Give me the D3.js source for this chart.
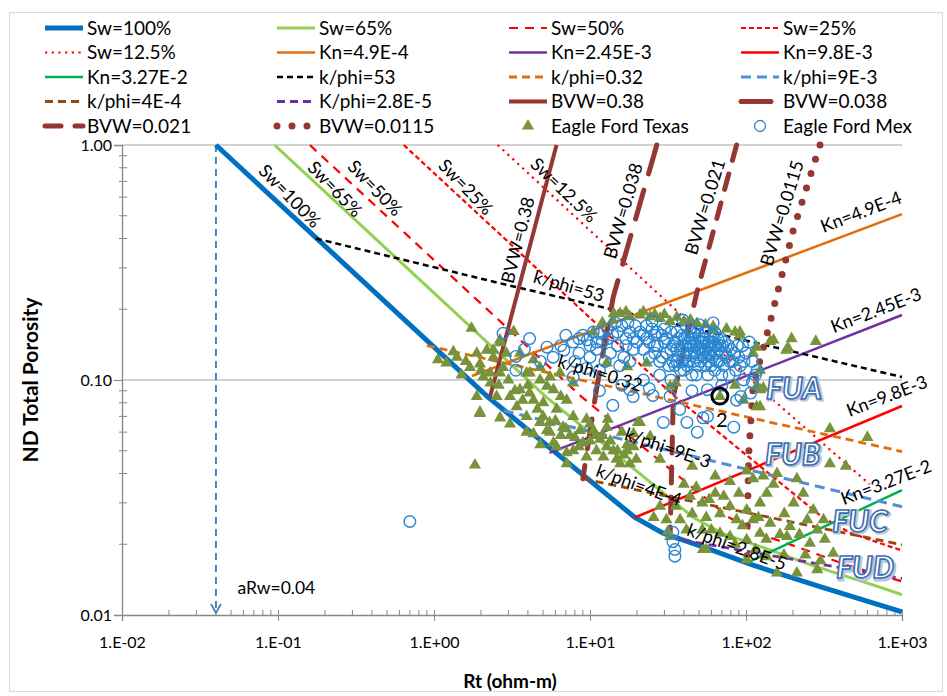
<!DOCTYPE html>
<html>
<head>
<meta charset="utf-8">
<script src="https://cdn.jsdelivr.net/npm/d3@7"></script>
<style>
  body { margin: 0; background: #fff; }
  text { font-family: Lato, "Open Sans", sans-serif; }
</style>
</head>
<body>
<script>
// ---- axis ticks ----
const xMajor = [0.01, 0.1, 1, 10, 100, 1000];
const xLabels = ['1.E-02', '1.E-01', '1.E+00', '1.E+01', '1.E+02', '1.E+03'];
const yMajor = [0.01, 0.1, 1];
const yLabels = ['0.01', '0.10', '1.00'];

// ---- model lines, [Rt, phi] ----
const sw100 = [[0.04, 1], [2.2, 0.085], [19.4, 0.026], [29.4, 0.0223], [53, 0.0195], [111, 0.0163], [298, 0.0132], [1000, 0.0103]];
const sw65 = [[0.095, 1], [5.2, 0.085], [46, 0.026], [70, 0.0223], [125, 0.0195], [263, 0.0163], [705, 0.0132], [1000, 0.0122]];
const sw50 = [[0.16, 1], [8.8, 0.085], [78, 0.026], [118, 0.0223], [212, 0.0195], [444, 0.0163], [1000, 0.0139]];
const sw25 = [[0.64, 1], [35, 0.085], [310, 0.026], [470, 0.0223], [848, 0.0195], [1000, 0.0188]];
const sw125 = [[2.56, 1], [141, 0.085], [620, 0.036]];
const kn49e4 = [[1.75, 0.104], [1000, 0.508]];
const kn245e3 = [[5.5, 0.049], [1000, 0.189]];
const kn98e3 = [[19.4, 0.026], [1000, 0.0775]];
const kn327e2 = [[100, 0.0166], [1000, 0.034]];
const kphi53 = [[0.175, 0.40], [2.65, 0.258], [1000, 0.103]];
const kphi032 = [[0.9, 0.14], [1000, 0.0496]];
const kphi9e3 = [[2.8, 0.074], [1000, 0.0289]];
const kphi4e4 = [[9, 0.038], [1000, 0.0199]];
const kphi28e5 = [[32.6, 0.0213], [1000, 0.0143]];
const bvw038 = [[6.1, 1], [2.29, 0.085]];
const bvw0038 = [[26.8, 1], [14.1, 0.226], [11, 0.091], [9, 0.038]];
const bvw0021 = [[87, 1], [48.3, 0.234], [34.2, 0.085], [32.6, 0.0213]];
const bvw00115 = [[298, 1], [201, 0.435], [142, 0.174], [111, 0.094], [104, 0.048], [101, 0.0168]];

// ---- samples ----
const texasPts = [
  [1.74,0.166],[3.24,0.161],[2.65,0.144],[1.33,0.132],[1.06,0.122],[1.88,0.130],[2.18,0.134],[2.40,0.125],[1.97,0.117],[1.70,0.113],
  [1.50,0.105],[2.07,0.103],[2.77,0.113],[2.91,0.130],[3.92,0.107],[4.34,0.122],[4.78,0.100],[5.54,0.103],[5.83,0.091],[3.56,0.091],
  [3.07,0.085],[2.52,0.085],[1.88,0.085],[1.97,0.072],[2.65,0.069],[3.39,0.077],[3.92,0.070],[4.34,0.082],[5.02,0.080],[6.11,0.075],
  [7.09,0.082],[4.78,0.066],[5.54,0.060],[6.71,0.063],[7.44,0.058],[7.81,0.070],[9.5,0.068],[10.5,0.061],[9.0,0.054],[11.6,0.056],
  [12.8,0.063],[14.1,0.050],[12.2,0.047],[7.09,0.049],[6.11,0.052],[4.8,0.053],[3.92,0.060],[19.0,0.052],[20.9,0.066],[15.6,0.044],
  [1.83,0.0435],
  [1.97,0.073],[3.07,0.065],[4.34,0.059],[5.30,0.061],[5.83,0.054],[7.81,0.050],[9.5,0.047],[7.09,0.044],[8.63,0.061],[11.0,0.058],
  [12.8,0.052],[14.8,0.046],[17.3,0.050],[19.8,0.046],
  [1.2,0.118],[1.4,0.125],[1.6,0.12],[2.0,0.11],[2.3,0.097],[2.6,0.095],[3.0,0.1],[3.3,0.09],[3.7,0.082],[4.1,0.088],
  [4.6,0.075],[5.0,0.07],[5.5,0.066],[6.0,0.067],[6.5,0.058],[7.0,0.062],[8.0,0.057],[8.5,0.052],[10,0.055],[11,0.05],
  [12,0.058],[13.5,0.055],[15,0.05],[16.5,0.048],[18,0.044],[10,0.065],[13,0.068],[16,0.06],[4.0,0.095],[6.5,0.085],
  [35.5,0.097],[20.3,0.066],[17.3,0.053],[28.1,0.046],[45.2,0.043],[63.5,0.039],[78.9,0.037],[63.5,0.033],[52.5,0.030],[43.8,0.032],
  [35.5,0.029],[28.1,0.029],[25.6,0.026],[30.9,0.0254],[37.8,0.0254],[45.2,0.027],[55.6,0.026],[68.1,0.027],[78.9,0.029],[87,0.0254],
  [101,0.028],[111,0.0254],[123,0.030],[136,0.033],[150,0.036],[129,0.039],[101,0.041],[111,0.038],[158,0.040],[212,0.038],
  [233,0.033],[202,0.030],[176,0.027],[143,0.0246],[191,0.0238],[247,0.0254],[286,0.023],[314,0.0254],[257,0.0202],[362,0.0183],
  [183,0.0216],[123,0.0223],[101,0.0172],[136,0.0177],[158,0.0151],[212,0.0151],[286,0.0156],[55.6,0.019],[101,0.0209],[78.9,0.0216],
  [68.1,0.0223],[52.5,0.023],[41.5,0.023],[32.6,0.0216],[345,0.062],[600,0.057],[345,0.044],[436,0.043],[117,0.077],[129,0.0925],
  [24.3,0.0575],[19.0,0.059],[31.5,0.0226],[53,0.019],
  [40,0.036],[48,0.035],[58,0.031],[72,0.032],[90,0.033],[95,0.024],[120,0.026],[135,0.021],[165,0.022],[220,0.022],
  [240,0.018],[175,0.018],[320,0.021],[270,0.028],[300,0.017],[60,0.023],[85,0.02],[115,0.019],
  [15.6,0.192],[18.0,0.186],[20.9,0.189],[24.3,0.186],[28.1,0.183],[32.6,0.177],[48.5,0.174],[61.6,0.169],[2.40,0.134],[91.5,0.160],
  [150,0.148],[196,0.150],[280,0.146],[181,0.134],[117,0.138],[111,0.130],[123,0.110],[117,0.094],[123,0.077],[96.3,0.082],
  [17.3,0.114],[23.1,0.118],[12.8,0.118],[143,0.146],[186,0.137],[123,0.091],[61.6,0.163],[91.5,0.155],[32.6,0.094],[68,0.085],
  [85,0.095],[3.56,0.130],[4.12,0.107],[2.65,0.107],[4.78,0.113],[6.42,0.107],[7.81,0.097],[5.3,0.094],[2.65,0.148],[2.29,0.107],
  [14.2,0.192],[40,0.178],[12,0.175],[10.5,0.16],
  [14,0.18],[17,0.195],[22,0.195],[26,0.19],[30,0.19],[36,0.185],[44,0.18],[55,0.172],[75,0.165],[85,0.16]
];
const mexPts = [
  [21,0.16],[23,0.15],[25,0.165],[27,0.14],[29,0.155],[31,0.13],[33,0.16],[35,0.145],[37,0.125],[40,0.15],[42,0.135],[44,0.16],
  [46,0.12],[48,0.14],[50,0.155],[53,0.13],[55,0.115],[58,0.145],[61,0.125],[64,0.14],[67,0.12],[70,0.13],
  [22,0.135],[24,0.125],[26,0.155],[28,0.12],[30,0.145],[32,0.115],[34,0.14],[36,0.16],[38,0.11],[41,0.125],[43,0.145],[45,0.105],
  [47,0.13],[49,0.115],[52,0.145],[54,0.125],[57,0.105],[60,0.135],[63,0.11],[66,0.15],[72,0.115],[75,0.125],[78,0.105],[82,0.12],
  [20,0.145],[23,0.17],[26,0.13],[30,0.165],[34,0.12],[39,0.14],[44,0.13],[51,0.12],[56,0.14],[62,0.155],[68,0.14],[73,0.145],
  [80,0.135],[86,0.11],[90,0.125],[28,0.105],[33,0.1],[38,0.135],[42,0.155],[47,0.15],[52,0.135],[58,0.12],[65,0.13],[70,0.105],
  [37,0.15],[40,0.13],[43,0.12],[46,0.14],[49,0.16],[51,0.145],[54,0.15],[57,0.13],[60,0.115],[45,0.15],[48,0.125],[41,0.14],
  [55,0.135],[39,0.12],[36,0.135],[62,0.14],[100,0.13],[110,0.12],[115,0.105],[95,0.14],[105,0.145],
  [24,0.145],[27,0.16],[31,0.15],[33,0.135],[36,0.12],[39,0.155],[42,0.115],[44,0.14],[46,0.16],[48,0.105],
  [50,0.135],[53,0.15],[55,0.16],[57,0.14],[59,0.13],[61,0.145],[63,0.16],[65,0.12],[67,0.135],[69,0.15],
  [71,0.14],[74,0.13],[77,0.14],[79,0.12],[84,0.13],[88,0.14],[92,0.115],[97,0.12],[40,0.11],[35,0.115],
  [29,0.125],[26,0.14],[22,0.155],[19,0.15],[17,0.14],[15,0.16],[13,0.15],[11,0.145],[10,0.14],[8.5,0.15],
  [6.5,0.14],[7,0.155],[7.8,0.145],[8.5,0.13],[9,0.155],[9.6,0.148],[10.5,0.16],[11,0.135],[11.5,0.158],[12,0.145],[13,0.165],
  [13.5,0.13],[14,0.155],[15,0.14],[16,0.17],[16.5,0.125],[17,0.15],[18,0.16],[19,0.135],[19.5,0.17],[8,0.12],[10,0.125],
  [12.5,0.12],[15.5,0.115],[18,0.12],[14.5,0.175],[17.5,0.175],[11.5,0.11],[9.5,0.112],
  [2.77,0.158],[3.35,0.126],[3.35,0.11],[4.1,0.15],[4.8,0.12],[5.3,0.138],[6.8,0.134],[5.8,0.125],[7.8,0.103],[3.8,0.135],
  [39.4,0.18],[61.6,0.175],[25,0.178],[50,0.172],
  [14,0.078],[18.9,0.085],[11.5,0.09],[16,0.095],[24,0.092],[32.6,0.085],[41.8,0.066],[48.7,0.06],[56.6,0.07],[83.5,0.063],
  [92.6,0.085],[107,0.088],[96.3,0.1],[118,0.11],[18,0.091],[25.3,0.086],[37.6,0.075],[29.5,0.066],[53,0.069],[87,0.082],
  [56.6,0.091],[70,0.095],[45,0.09],[110,0.098],[22,0.1],
  [34,0.0225],[34,0.0205],[35,0.019],[35,0.0178],[0.7,0.025]
];

const brown = '#953735';
const series = [
  { name: 'Sw=100%', pts: sw100, color: '#0070C0', w: 5 },
  { name: 'Sw=65%', pts: sw65, color: '#92D050', w: 3 },
  { name: 'Sw=50%', pts: sw50, color: '#FF0000', w: 2.2, dash: '9,7' },
  { name: 'Sw=25%', pts: sw25, color: '#FF0000', w: 2.2, dash: '5,3' },
  { name: 'Sw=12.5%', pts: sw125, color: '#FF0000', w: 2.2, dash: '2.2,4.5' },
  { name: 'Kn=4.9E-4', pts: kn49e4, color: '#E46C0A', w: 2.5 },
  { name: 'Kn=2.45E-3', pts: kn245e3, color: '#7030A0', w: 2.5 },
  { name: 'Kn=9.8E-3', pts: kn98e3, color: '#FF0000', w: 2.5 },
  { name: 'Kn=3.27E-2', pts: kn327e2, color: '#00B050', w: 2.5 },
  { name: 'k/phi=53', pts: kphi53, color: '#000000', w: 2.5, dash: '6,4' },
  { name: 'k/phi=0.32', pts: kphi032, color: '#E46C0A', w: 2.8, dash: '8,5' },
  { name: 'k/phi=9E-3', pts: kphi9e3, color: '#558ED5', w: 3, dash: '10,6' },
  { name: 'k/phi=4E-4', pts: kphi4e4, color: '#984807', w: 2.8, dash: '8,5' },
  { name: 'K/phi=2.8E-5', pts: kphi28e5, color: '#7030A0', w: 2.8, dash: '8,5' },
  { name: 'BVW=0.38', pts: bvw038, color: brown, w: 4 },
  { name: 'BVW=0.038', pts: bvw0038, color: brown, w: 5, dash: '30,17', cap: 'round' },
  { name: 'BVW=0.021', pts: bvw0021, color: brown, w: 5, dash: '16,14', cap: 'round' },
  { name: 'BVW=0.0115', pts: bvw00115, color: brown, w: 7, dash: '0,15', cap: 'round' }
];

const W = 947, H = 696;
const svg = d3.select('body').append('svg').attr('width', W).attr('height', H);

svg.append('rect')
  .attr('x', 9.5).attr('y', 12.5).attr('width', 933).attr('height', 679)
  .attr('fill', '#fff').attr('stroke', '#d9d9d9');

const x = d3.scaleLog().domain([0.01, 1000]).range([122, 902]);
const y = d3.scaleLog().domain([0.01, 1]).range([615, 145]);
const axisCol = '#868686';

// gridlines
svg.selectAll('.grid').data([1, 0.1]).join('line')
  .attr('x1', 122).attr('x2', 902)
  .attr('y1', d => y(d)).attr('y2', d => y(d))
  .attr('stroke', '#a6a6a6').attr('stroke-width', 1.2);

// x axis
const isMajor = v => Math.abs(Math.log10(v) - Math.round(Math.log10(v))) < 1e-6;
const gx = svg.append('g').attr('transform', 'translate(0,615)');
gx.call(d3.axisBottom(x).tickValues(xMajor).tickSize(6).tickFormat((d, i) => xLabels[i]));
gx.selectAll('.tick').append('line').attr('y2', -5).attr('stroke', axisCol);
gx.selectAll('.minor').data(x.ticks().filter(v => !isMajor(v))).join('line')
  .attr('x1', d => x(d)).attr('x2', d => x(d)).attr('y1', 0).attr('y2', -5)
  .attr('stroke', axisCol);
gx.selectAll('text').attr('font-size', 16).attr('y', 22).attr('dy', '0.71em').attr('fill', '#000');

// y axis
const gy = svg.append('g').attr('transform', 'translate(122,0)');
gy.call(d3.axisLeft(y).tickValues(yMajor).tickSize(8).tickFormat((d, i) => yLabels[i]));
gy.selectAll('.minor').data(y.ticks().filter(v => !isMajor(v))).join('line')
  .attr('y1', d => y(d)).attr('y2', d => y(d)).attr('x1', -3).attr('x2', 5)
  .attr('stroke', axisCol);
gy.selectAll('text').attr('font-size', 16).attr('x', -10).attr('fill', '#000');

[gx, gy].forEach(g => {
  g.select('.domain').attr('stroke', axisCol).attr('stroke-width', 1.3);
  g.selectAll('.tick line').attr('stroke', axisCol);
});

// axis titles
svg.append('text').attr('transform', 'translate(38,380) rotate(-90)')
  .attr('text-anchor', 'middle').attr('font-weight', 'bold').attr('font-size', 21)
  .text('ND Total Porosity');
svg.append('text').attr('x', 510).attr('y', 688)
  .attr('text-anchor', 'middle').attr('font-weight', 'bold').attr('font-size', 19)
  .text('Rt (ohm-m)');

// aRw arrow
svg.append('line')
  .attr('x1', x(0.04)).attr('x2', x(0.04)).attr('y1', y(1)).attr('y2', y(0.01) - 2)
  .attr('stroke', '#4F81BD').attr('stroke-width', 2).attr('stroke-dasharray', '7,5');
svg.append('path')
  .attr('d', `M${x(0.04) - 5},${y(0.01) - 11} L${x(0.04)},${y(0.01) - 2} L${x(0.04) + 5},${y(0.01) - 11}`)
  .attr('fill', 'none').attr('stroke', '#4F81BD').attr('stroke-width', 1.8);
svg.append('text').attr('x', x(0.055)).attr('y', y(0.013)).attr('dy', '0.35em')
  .attr('font-size', 17.5).text('aRw=0.04');

// model lines
svg.append('clipPath').attr('id', 'plot')
  .append('rect').attr('x', 122).attr('y', 140).attr('width', 785).attr('height', 478);
const line = d3.line().x(d => x(d[0])).y(d => y(d[1]));
svg.append('g').attr('clip-path', 'url(#plot)')
  .selectAll('path').data(series).join('path')
  .attr('d', d => line(d.pts))
  .attr('fill', 'none')
  .attr('stroke', d => d.color)
  .attr('stroke-width', d => d.w)
  .attr('stroke-dasharray', d => d.dash || null)
  .attr('stroke-linecap', d => d.cap || 'butt');

// samples
const tri = d3.symbol(d3.symbolTriangle).size(64);
svg.append('g').selectAll('path').data(texasPts).join('path')
  .attr('d', tri)
  .attr('transform', d => `translate(${x(d[0])},${y(d[1])})`)
  .attr('fill', '#77933C');
svg.append('g').selectAll('circle').data(mexPts).join('circle')
  .attr('cx', d => x(d[0])).attr('cy', d => y(d[1])).attr('r', 5.8)
  .attr('fill', 'none').attr('stroke', '#2A86D1').attr('stroke-width', 1.4);

// in-plot labels
const lineLabels = [
  { t: 'Sw=100%', rt: 0.119, phi: 0.607, a: 46 },
  { t: 'Sw=65%', rt: 0.232, phi: 0.649, a: 46 },
  { t: 'Sw=50%', rt: 0.419, phi: 0.656, a: 46 },
  { t: 'Sw=25%', rt: 1.6, phi: 0.663, a: 46 },
  { t: 'Sw=12.5%', rt: 6.81, phi: 0.643, a: 44 },
  { t: 'BVW=0.38', rt: 3.45, phi: 0.394, a: -76 },
  { t: 'BVW=0.038', rt: 16.3, phi: 0.524, a: -74 },
  { t: 'BVW=0.021', rt: 54.6, phi: 0.545, a: -73 },
  { t: 'BVW=0.0115', rt: 170, phi: 0.513, a: -73 },
  { t: 'Kn=4.9E-4', rt: 546, phi: 0.519, a: -21 },
  { t: 'Kn=2.45E-3', rt: 681, phi: 0.198, a: -21 },
  { t: 'Kn=9.8E-3', rt: 800, phi: 0.0855, a: -21 },
  { t: 'Kn=3.27E-2', rt: 789, phi: 0.0367, a: -21 },
  { t: 'k/phi=53', rt: 7.33, phi: 0.251, a: 16 },
  { t: 'k/phi=0.32', rt: 11.6, phi: 0.107, a: 17 },
  { t: 'k/phi=9E-3', rt: 31.6, phi: 0.0514, a: 19 },
  { t: 'k/phi=4E-4', rt: 20.6, phi: 0.0357, a: 20 },
  { t: 'k/phi=2.8E-5', rt: 87.5, phi: 0.0195, a: 20 }
];
svg.append('g').selectAll('text').data(lineLabels).join('text')
  .attr('transform', d => `translate(${x(d.rt)},${y(d.phi)}) rotate(${d.a})`)
  .attr('text-anchor', 'middle').attr('dy', '0.35em')
  .attr('font-size', 18).text(d => d.t);

const zoneLabels = [
  { t: 'FUA', rt: 203, phi: 0.0924 },
  { t: 'FUB', rt: 199, phi: 0.0484 },
  { t: 'FUC', rt: 538, phi: 0.0251 },
  { t: 'FUD', rt: 580, phi: 0.0159 }
];
const zg = svg.append('g').selectAll('g').data(zoneLabels).join('g')
  .attr('transform', d => `translate(${x(d.rt)},${y(d.phi)})`);
zg.append('text').attr('x', 1.5).attr('y', 1.5).attr('dy', '0.35em')
  .attr('text-anchor', 'middle').attr('font-size', 30).attr('font-weight', 'bold').attr('font-style', 'italic')
  .attr('fill', 'none').attr('stroke', '#b8c7da').attr('stroke-width', 3).text(d => d.t);
zg.append('text').attr('dy', '0.35em')
  .attr('text-anchor', 'middle').attr('font-size', 30).attr('font-weight', 'bold').attr('font-style', 'italic')
  .attr('fill', '#fff').attr('stroke', '#3A6DB0').attr('stroke-width', 1.6).text(d => d.t);

// O2 marker
svg.append('circle').attr('cx', x(68)).attr('cy', y(0.0854)).attr('r', 8)
  .attr('fill', 'none').attr('stroke', '#000').attr('stroke-width', 3);
svg.append('text').attr('x', x(70)).attr('y', y(0.0676)).attr('dy', '0.35em')
  .attr('text-anchor', 'middle').attr('font-size', 20).text('2');

// legend
const legendItems = series.map(s => ({ ...s, kind: 'line' }))
  .concat([{ name: 'Eagle Ford Texas', kind: 'tri' }, { name: 'Eagle Ford Mex', kind: 'circle' }]);
const colX = [45, 277, 509, 741];
const lg = svg.append('g').selectAll('g').data(legendItems).join('g')
  .attr('transform', (d, i) => `translate(${colX[i % 4]},${28 + 24.5 * Math.floor(i / 4)})`);
lg.filter(d => d.kind === 'line').append('line')
  .attr('x1', 0).attr('x2', 38)
  .attr('stroke', d => d.color)
  .attr('stroke-width', d => d.w)
  .attr('stroke-dasharray', d => d.dash || null)
  .attr('stroke-linecap', d => d.cap || 'butt');
lg.filter(d => d.kind === 'tri').append('path')
  .attr('d', tri).attr('transform', 'translate(19,0)').attr('fill', '#77933C');
lg.filter(d => d.kind === 'circle').append('circle')
  .attr('cx', 19).attr('r', 5.5)
  .attr('fill', 'none').attr('stroke', '#2A86D1').attr('stroke-width', 1.3);
lg.append('text').attr('x', 42).attr('dy', '0.35em').attr('font-size', 19).text(d => d.name);
</script>
</body>
</html>
